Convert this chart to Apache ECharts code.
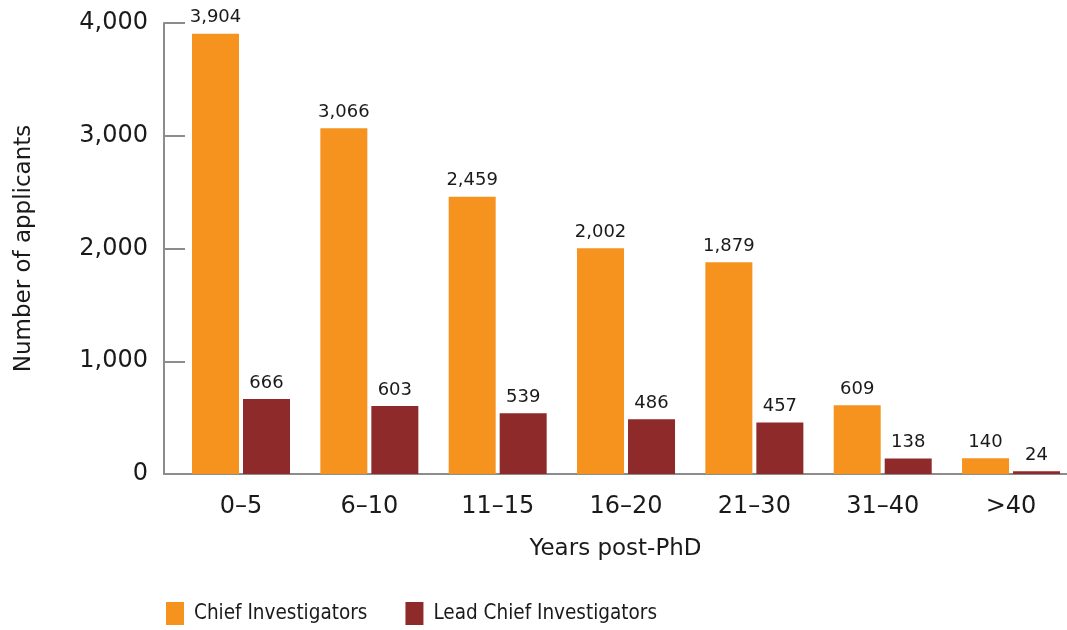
<!DOCTYPE html>
<html>
<head>
<meta charset="utf-8">
<script src="https://cdn.jsdelivr.net/npm/echarts@6/dist/echarts.min.js"></script>
<style>
html,body{margin:0;padding:0;background:#fff;}
#chart{width:1067px;height:630px;}
</style>
</head>
<body>
<div id="chart"></div>
<script>
const categories = ['0–5', '6–10', '11–15', '16–20', '21–30', '31–40', '>40'];
const chiefInvestigators = [3904, 3066, 2459, 2002, 1879, 609, 140];
const leadChiefInvestigators = [666, 603, 539, 486, 457, 138, 24];
const yTicks = [0, 1000, 2000, 3000, 4000];

const chart = echarts.init(document.getElementById('chart'), null, {renderer: 'canvas'});
const mainFont = "'DejaVu Sans', sans-serif";
const legendFont = "'DejaVu Sans Condensed', sans-serif";
const textColor = '#1a1a1a';
const axisColor = '#8c8c8c';
const idx = categories.map((c, i) => i);
const fmt = v => Number(v).toLocaleString('en-US');

chart.setOption({
  animation: false,
  backgroundColor: '#fff',
  grid: {left: 164, right: 0, top: 23, bottom: 156, containLabel: false},
  legend: {
    left: 161, top: 597,
    itemWidth: 18, itemHeight: 23, itemGap: 38,
    icon: 'rect',
    textStyle: {fontFamily: legendFont, fontSize: 20.5, color: textColor, padding: [0, 0, 0, 5]},
    data: ['Chief Investigators', 'Lead Chief Investigators']
  },
  xAxis: {
    type: 'value',
    min: -0.6, max: 6.436,
    name: 'Years post-PhD',
    nameLocation: 'middle',
    nameGap: 64,
    nameTextStyle: {fontFamily: mainFont, fontSize: 23, color: textColor},
    axisLine: {show: true, onZero: false, lineStyle: {color: axisColor, width: 2}},
    axisTick: {show: false},
    splitLine: {show: false},
    axisLabel: {
      customValues: idx,
      formatter: v => categories[Math.round(v)],
      fontFamily: mainFont, fontSize: 24, color: textColor, margin: 21
    }
  },
  yAxis: {
    type: 'value',
    min: 0, max: 4000, interval: 1000,
    name: 'Number of applicants',
    nameLocation: 'middle',
    nameRotate: 90,
    nameGap: 128,
    nameTextStyle: {fontFamily: mainFont, fontSize: 23, color: textColor},
    axisLine: {show: true, onZero: false, lineStyle: {color: axisColor, width: 2}},
    axisTick: {show: true, inside: true, length: 21, lineStyle: {color: axisColor, width: 2}},
    splitLine: {show: false},
    axisLabel: {
      fontFamily: mainFont, fontSize: 24, color: textColor, margin: 16,
      formatter: v => fmt(v)
    }
  },
  series: [
    {
      name: 'Chief Investigators',
      type: 'bar',
      data: chiefInvestigators.map((v, i) => [i, v]),
      barWidth: 47,
      barGap: '8.5%',
      itemStyle: {color: '#F6931E'},
      label: {show: true, position: 'top', distance: 7, fontFamily: mainFont, fontSize: 18, color: textColor,
        formatter: p => fmt(p.value[1])}
    },
    {
      name: 'Lead Chief Investigators',
      type: 'bar',
      data: leadChiefInvestigators.map((v, i) => [i, v]),
      barWidth: 47,
      barGap: '8.5%',
      itemStyle: {color: '#8E2A29'},
      label: {show: true, position: 'top', distance: 7, fontFamily: mainFont, fontSize: 18, color: textColor,
        formatter: p => fmt(p.value[1])}
    }
  ]
});
</script>
</body>
</html>
